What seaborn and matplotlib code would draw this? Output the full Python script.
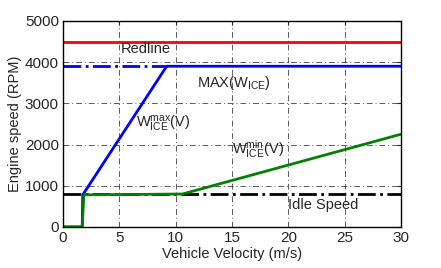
import numpy as np
import pandas as pd
import matplotlib
matplotlib.use("Agg")
import matplotlib.pyplot as plt
import seaborn as sns

sns.set_style("white")
plt.rcParams["font.family"] = ["Liberation Sans", "DejaVu Sans"]
plt.rcParams["mathtext.fontset"] = "custom"
plt.rcParams["mathtext.rm"] = "Liberation Sans"
plt.rcParams["mathtext.it"] = "Liberation Sans"

# velocity (m/s) / engine speed (RPM)
max_v = [0, 1.7, 1.75, 9.2, 30]
max_rpm = [0, 0, 780, 3900, 3900]
min_v = [0, 1.7, 1.85, 10.6, 30]
min_rpm = [0, 0, 780, 800, 2250]
redline = 4500
max_ice = 3900
idle = 800

fig, ax = plt.subplots(figsize=(4.41, 2.68), dpi=100)

ax.axhline(redline, color="red", lw=2)
ax.plot([0, 9.2], [max_ice, max_ice], color="blue", lw=2, ls="-.")
ax.axhline(idle, color="black", lw=2, ls="-.")
sns.lineplot(x=max_v, y=max_rpm, color="blue", lw=2, ax=ax)
sns.lineplot(x=min_v, y=min_rpm, color="green", lw=2, ax=ax)

ax.text(5.1, 4230, "Redline", fontsize=10.5)
ax.text(11.9, 3400, r"MAX(W$_{\rm ICE}$)", fontsize=10.5)
ax.text(6.5, 2400, r"W$_{\rm ICE}^{\rm max}$(V)", fontsize=10.5)
ax.text(15.0, 1780, r"W$_{\rm ICE}^{\rm min}$(V)", fontsize=10.5)
ax.text(20.0, 430, "Idle Speed", fontsize=10.5)

ax.set_xlim(0, 30)
ax.set_ylim(0, 5000)
ax.set_xticks([0, 5, 10, 15, 20, 25, 30])
ax.set_yticks([0, 1000, 2000, 3000, 4000, 5000])
ax.grid(True, color="#333333", ls=(0, (6, 3, 1, 3)), lw=0.7, alpha=0.8)
ax.set_xlabel("Vehicle Velocity (m/s)", fontsize=10.5, labelpad=1)
ax.set_ylabel("Engine speed (RPM)", fontsize=10.5, labelpad=2)
ax.tick_params(labelsize=11, direction="in", length=3, width=0.8, pad=3,
               top=True, right=True)
for s in ax.spines.values():
    s.set_color("black")
    s.set_linewidth(1)

fig.subplots_adjust(left=0.143, right=0.909, top=0.922, bottom=0.153)
fig.savefig("out.png", dpi=100)
